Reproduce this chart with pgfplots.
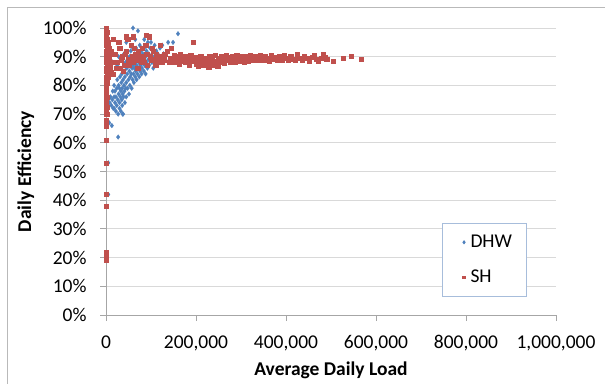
\documentclass[border=0pt]{standalone}
\usepackage{fontspec}
\setmainfont{Carlito}
\usepackage{pgfplots}
\pgfplotsset{compat=1.18}
\definecolor{dhw}{HTML}{4F81BD}
\definecolor{sh}{HTML}{C0504D}
\definecolor{gridc}{HTML}{D9D9D9}
\definecolor{axc}{HTML}{A6A6A6}
\definecolor{legc}{HTML}{A7BDDB}
\begin{document}
\begin{tikzpicture}[x=1pt,y=1pt,font=\fontsize{19.5}{23}\selectfont]
\useasboundingbox (0,0) rectangle (605,383);
\draw[gray!55, line width=1pt] (7,-20) -- (7,375) -- (640,375);
\begin{axis}[
  at={(106pt,68pt)}, anchor=south west,
  scale only axis, width=450pt, height=287pt,
  xmin=0, xmax=1000000, ymin=0, ymax=100,
  axis lines=left, axis line style={-, draw=axc, line width=0.9pt},
  xtick={0,200000,400000,600000,800000,1000000},
  ytick={0,10,...,100},
  tick align=outside,
  major tick length=6pt,
  tick style={draw=axc, line width=0.9pt},
  ymajorgrids, grid style={draw=gridc, line width=0.9pt},
  scaled x ticks=false,
  /pgf/number format/assume math mode=true,
  xticklabel style={yshift=-11pt, /pgf/number format/.cd, fixed, 1000 sep={,}},
  yticklabel={\pgfmathprintnumber[fixed,precision=0]{\tick}\%},
  yticklabel style={xshift=-10pt},
  xlabel={\bfseries Average Daily Load},
  ylabel={\bfseries Daily Efficiency},
  every axis x label/.style={at={(axis description cs:0.5,-0.192)}, anchor=center},
  every axis y label/.style={at={(axis description cs:-0.178,0.5)}, rotate=90, anchor=center},
  legend style={at={(0.747,0.063)}, anchor=south west, draw=legc, line width=0.9pt,
    inner xsep=12pt, inner ysep=10pt, row sep=17pt, font=\fontsize{19.5}{23}\selectfont},
  legend cell align=left,
  legend image code/.code={\path (0pt,0pt) (13pt,0pt); \draw[#1, mark options={scale=0.6}] plot coordinates {(9pt,0pt)};},
]
\addplot[only marks, mark=diamond*, mark size=2.4pt, color=dhw, mark options={draw=dhw, fill=dhw, line width=0.2pt}] coordinates {
(5000,53)(5000,42)(7000,67)(13000,66)(18000,72)(27000,62)(37000,70)
(10000,89)(15000,88)(12000,85)
(8000,74)(10000,76)(12000,73)(14000,75)(15000,78)(16000,72)(18000,76)(18000,80)(20000,74)(20000,78)
(22000,71)(22000,76)(24000,73)(24000,79)(25000,82)(26000,75)(27000,70)(28000,77)(28000,80)(30000,72)
(30000,74)(30000,79)(31000,83)(32000,76)(33000,71)(33000,78)(34000,81)(35000,75)(35000,84)(36000,73)
(36000,79)(37000,77)(38000,70)(38000,82)(39000,76)(40000,80)(40000,85)(41000,78)(42000,74)(42000,83)
(43000,88)(44000,79)(45000,81)(45000,76)(46000,86)(47000,84)(48000,79)(48000,89)(50000,82)(50000,87)
(51000,77)(52000,85)(52000,90)(53000,80)(54000,83)(55000,88)(55000,92)(56000,84)(57000,79)(58000,86)
(58000,90)(59000,82)(60000,87)(60000,93)(61000,84)(62000,81)(62000,89)(63000,86)(64000,91)(65000,83)
(65000,88)(66000,85)(67000,93)(68000,87)(68000,82)(70000,89)(70000,84)(71000,91)(72000,86)(73000,88)
(74000,83)(75000,90)(75000,94)(76000,85)(77000,87)(78000,92)(79000,84)(80000,89)(80000,86)(82000,91)
(83000,88)(84000,85)(85000,93)(86000,87)(88000,90)(88000,84)(90000,92)(90000,88)(92000,86)(93000,95)
(94000,89)(95000,91)(96000,87)(98000,93)(100000,90)(100000,95)(102000,88)(104000,92)(105000,86)(107000,90)
(108000,94)(110000,89)(112000,92)(115000,91)(118000,88)(120000,93)(122000,90)(125000,94)(128000,91)(132000,89)
(138000,95)(149000,95)(160000,98)(60000,100)(71000,99)(45000,95)(52000,96)(35000,89)(25000,87)(28000,90)
(40000,91)(65000,96)(85000,96)
};
\addlegendentry{DHW}
\addplot[only marks, mark=square*, mark size=2.1pt, color=sh, mark options={draw=sh, fill=sh, line width=0.2pt}] coordinates {
(0,100)(1000,99)(2000,98.5)(0,97)(3000,96)(1000,95.5)(5000,95)(0,94)(2000,93.5)(6000,93)
(1000,92)(4000,91.5)(0,91)(3000,90.5)(7000,90)(1000,89.5)(5000,89)(2000,88.5)(0,88)(8000,87.5)
(3000,87)(1000,86)(0,85)(2000,84)(1000,83)(0,82)(2000,81)(1000,80)(0,79)(1000,78)
(0,77)(1000,76)(0,75)(1000,74)(0,73)(1000,72)(0,71)(1000,70)(0,68)(1000,67)
(0,66)(0,61)(0,53)(0,42)(0,38)(0,22)(0,21)(0,20)(0,19.5)(0,19)
(4000,94.5)(6000,92.5)(3000,89.8)(9000,91)(5000,86.5)(7000,88.5)(4000,83)(2000,76)(3000,72.5)(2000,70)
(15000,96)(20000,91)(25000,88)(30000,93)(35000,90)(40000,87)(45000,92)(50000,89)(55000,94)(60000,88)
(65000,91)(70000,86)(75000,90)(80000,93)(85000,88)(90000,91)(95000,97)(100000,89)(105000,92)(110000,87)
(115000,90)(120000,94)(125000,88)(130000,91)(8000,86)(12000,92)(18000,88)(22000,86)(28000,95)(33000,89)
(38000,85)(42000,91)(48000,96)(52000,87)(58000,90)(62000,93)(68000,89)(72000,92)(78000,88)(82000,90)
(88000,94)(92000,87)(98000,90)(102000,93)(108000,89)(112000,91)(118000,88)(122000,90)(128000,89)(135000,92)
(140000,88)(144000,93)(150000,89)(155000,90)(160000,88)(165000,91)(170000,89)(175000,88)(180000,90)(185000,87)
(193000,95)(190000,89)(16000,84)(30000,86)(60000,97)(89000,97.5)(44000,97)(11000,84.7)
(142000,89.5)(148000,88)(152000,90.5)(158000,89)(162000,87.5)(168000,90)(172000,88.5)(178000,89.5)(182000,88)(188000,90.5)
(197000,89.8)(205000,86.8)(218000,87)(228000,86.5)(238000,87.2)(248000,86.8)
(195000,88.5)(200000,87.5)(203000,89.5)(207000,88)(210000,90)(213000,87)(216000,88.8)(220000,89.5)(223000,87.5)(226000,88.5)
(230000,90)(233000,88)(236000,89)(240000,87.8)(243000,90.5)(246000,88.5)(250000,89.5)(253000,88)(256000,90)(260000,89)
(263000,87.8)(266000,90.5)(270000,88.8)(273000,89.8)(276000,88.2)(280000,90.2)(283000,89)(286000,88)(290000,90.5)(293000,89.2)
(296000,88.5)(300000,90)(303000,89.5)(306000,88.2)(310000,90.3)(313000,89)(316000,88.5)(320000,90.5)(323000,89.3)(326000,88.8)
(330000,90)(334000,89.5)(338000,88.7)(342000,90.4)(346000,89.2)(350000,88.9)(354000,90.2)(358000,89.5)(362000,88.6)(366000,90.6)
(370000,89.1)(375000,89.8)(380000,88.7)(384000,90.2)(388000,89.4)(392000,88.9)(396000,90.5)(400000,89.6)(405000,88.8)(410000,90.1)
(415000,89.3)(420000,88.9)(425000,90.7)(430000,89.5)(436000,89)(440000,90.2)(447000,89.4)(452000,88.5)(458000,89.8)(462000,90.5)
(466000,89.2)(472000,88.6)(478000,89.5)(482000,90.8)(486000,89.8)(490000,89.2)(504000,88.5)(527000,89.6)(544000,90.2)(567000,89.2)
};
\addlegendentry{SH}
\end{axis}
\end{tikzpicture}
\end{document}
